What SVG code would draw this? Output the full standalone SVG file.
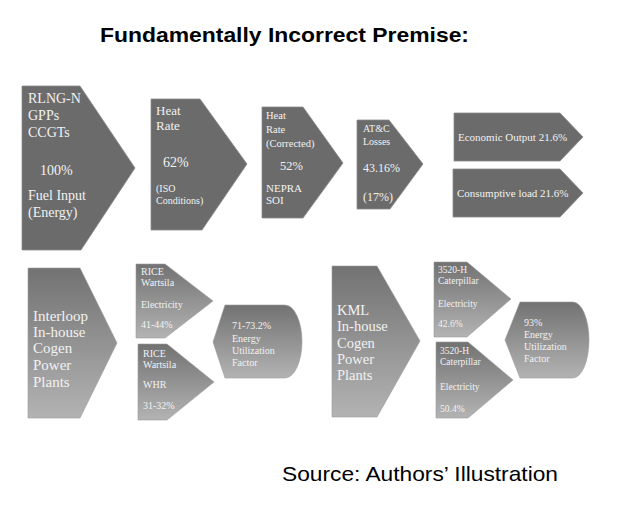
<svg xmlns="http://www.w3.org/2000/svg" width="640" height="506" viewBox="0 0 640 506">
<defs>
<linearGradient id="g" x1="0" y1="0" x2="0" y2="1">
<stop offset="0" stop-color="#727272"/>
<stop offset="1" stop-color="#b3b3b3"/>
</linearGradient>
</defs>
<style>
.dk{fill:#6b6b6b;stroke:#8c8c8c;stroke-width:0.8}
.gr{fill:url(#g);stroke:#9a9a9a;stroke-width:0.6}
text{font-family:"Liberation Serif","Times New Roman",serif;fill:#f2f2f2}
.title{font-family:"Liberation Sans",Arial,sans-serif;font-weight:bold;font-size:21px;fill:#000}
.src{font-family:"Liberation Sans",Arial,sans-serif;font-size:21px;fill:#000}
</style>
<rect width="640" height="506" fill="#fff"/>
<text class="title" x="100" y="42" textLength="369" lengthAdjust="spacingAndGlyphs">Fundamentally Incorrect Premise:</text>

<g id="fuel-input">
<polygon class="dk" points="22,86 80,86 135,168 81,250 22,250"/>
<text font-size="14"><tspan x="28" y="103">RLNG-N</tspan><tspan x="28" y="120">GPPs</tspan><tspan x="28" y="137">CCGTs</tspan><tspan x="40" y="175">100%</tspan><tspan x="28" y="200">Fuel Input</tspan><tspan x="28" y="217">(Energy)</tspan></text>
</g>

<g id="heat-rate">
<polygon class="dk" points="151,99 200,99 247,164 202,230 151,230"/>
<text font-size="13"><tspan x="156" y="115">Heat</tspan><tspan x="156" y="130">Rate</tspan><tspan x="163" y="167" font-size="14">62%</tspan></text>
<text font-size="10"><tspan x="156" y="192">(ISO</tspan><tspan x="156" y="204">Conditions)</tspan></text>
</g>

<g id="heat-rate-corrected">
<polygon class="dk" points="262,107 303,107 343,163 303,218 262,218"/>
<text font-size="10.5"><tspan x="266" y="119">Heat</tspan><tspan x="266" y="133">Rate</tspan><tspan x="266" y="147">(Corrected)</tspan></text>
<text font-size="12.5" x="280" y="170">52%</text>
<text font-size="11"><tspan x="266" y="192">NEPRA</tspan><tspan x="266" y="204">SOI</tspan></text>
</g>

<g id="atc-losses">
<polygon class="dk" points="357,120 389,120 423,164 390,209 357,209"/>
<text font-size="10"><tspan x="363" y="132">AT&amp;C</tspan><tspan x="363" y="145">Losses</tspan></text>
<text font-size="12"><tspan x="363" y="172">43.16%</tspan><tspan x="363" y="201">(17%)</tspan></text>
</g>

<g id="economic-output">
<polygon class="dk" points="454,113 560,113 583,137 560,161 454,161"/>
<text font-size="11" x="458" y="141">Economic Output 21.6%</text>
</g>

<g id="consumptive-load">
<polygon class="dk" points="453,169 560,169 583,193 560,217 453,217"/>
<text font-size="11" x="457" y="197">Consumptive load 21.6%</text>
</g>

<g id="interloop">
<polygon class="gr" points="28,268 80,268 117,343 80,418 28,418"/>
<text font-size="15"><tspan x="33" y="321">Interloop</tspan><tspan x="33" y="337">In-house</tspan><tspan x="33" y="353">Cogen</tspan><tspan x="33" y="370">Power</tspan><tspan x="33" y="387">Plants</tspan></text>
</g>

<g id="rice-electricity">
<polygon class="gr" points="136,264 165,264 213,301 165,338 136,338"/>
<text font-size="10"><tspan x="141" y="275">RICE</tspan><tspan x="141" y="286">Wartsila</tspan><tspan x="141" y="308">Electricity</tspan><tspan x="141" y="328">41-44%</tspan></text>
</g>

<g id="rice-whr">
<polygon class="gr" points="138,344 167,344 214,382 167,420 138,420"/>
<text font-size="10"><tspan x="143" y="357">RICE</tspan><tspan x="143" y="368">Wartsila</tspan><tspan x="143" y="388">WHR</tspan><tspan x="143" y="409">31-32%</tspan></text>
</g>

<g id="euf-interloop">
<path class="gr" d="M213,342 L225,305 L285,305 A17,36.5 0 0 1 285,378 L225,378 Z"/>
<text font-size="10"><tspan x="232" y="329">71-73.2%</tspan><tspan x="232" y="342">Energy</tspan><tspan x="232" y="354">Utilization</tspan><tspan x="232" y="366">Factor</tspan></text>
</g>

<g id="kml">
<polygon class="gr" points="332,266 377,266 420,341 377,417 332,417"/>
<text font-size="14.5"><tspan x="337" y="315">KML</tspan><tspan x="337" y="331">In-house</tspan><tspan x="337" y="348">Cogen</tspan><tspan x="337" y="364">Power</tspan><tspan x="337" y="380">Plants</tspan></text>
</g>

<g id="caterpillar-1">
<polygon class="gr" points="434,262 467,262 511,299 467,337 434,337"/>
<text font-size="9.5"><tspan x="438" y="273">3520-H</tspan><tspan x="438" y="284">Caterpillar</tspan><tspan x="438" y="307">Electricity</tspan><tspan x="438" y="327">42.6%</tspan></text>
</g>

<g id="caterpillar-2">
<polygon class="gr" points="436,342 468,342 513,380 468,418 436,418"/>
<text font-size="9.5"><tspan x="440" y="354">3520-H</tspan><tspan x="440" y="365">Caterpillar</tspan><tspan x="440" y="390">Electricity</tspan><tspan x="440" y="412">50.4%</tspan></text>
</g>

<g id="euf-kml">
<path class="gr" d="M505,340 L520,302 L573,302 A16,38 0 0 1 573,378 L520,378 Z"/>
<text font-size="10"><tspan x="524" y="326">93%</tspan><tspan x="524" y="338">Energy</tspan><tspan x="524" y="350">Utilization</tspan><tspan x="524" y="362">Factor</tspan></text>
</g>

<g id="connectors"></g>

<text class="src" x="282" y="481" textLength="276" lengthAdjust="spacingAndGlyphs">Source: Authors’ Illustration</text>
</svg>
